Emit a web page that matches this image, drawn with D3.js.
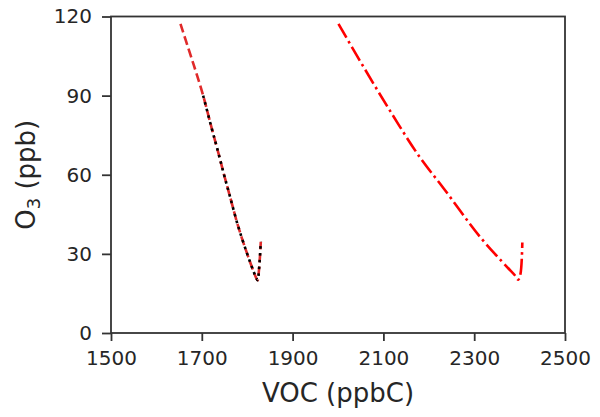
<!DOCTYPE html>
<html>
<head>
<meta charset="utf-8">
<script src="https://cdn.jsdelivr.net/npm/d3@7"></script>
<style>
  body { margin: 0; background: #fff; }
  svg, svg text { font-family: "DejaVu Sans", sans-serif; }
  .axis .tick text { fill: #262626; font-size: 20px; font-family: "DejaVu Sans", sans-serif; }
  .axis path, .axis line { stroke: #333; stroke-width: 1.8; }
</style>
</head>
<body>
<div id="chart"></div>
<script>
const xTicks = [1500, 1700, 1900, 2100, 2300, 2500];
const yTicks = [0, 30, 60, 90, 120];

// first scenario, red dashed
const scenarioA = [
  { voc: 1653, o3: 117.2 },
  { voc: 1674, o3: 106 },
  { voc: 1688, o3: 98.5 },
  { voc: 1703, o3: 90 },
  { voc: 1722, o3: 77.5 },
  { voc: 1736, o3: 68.6 },
  { voc: 1749, o3: 60 },
  { voc: 1762, o3: 51.8 },
  { voc: 1780, o3: 40.5 },
  { voc: 1800, o3: 30 },
  { voc: 1813, o3: 23.8 },
  { voc: 1820, o3: 20.8 },
  { voc: 1823, o3: 20 },
  { voc: 1826, o3: 24 },
  { voc: 1830, o3: 34.6 }
];

// same scenario, black dotted overlay
const overlayA = scenarioA.filter((d) => d.voc >= 1700);

// second scenario, red dash-dot
const scenarioB = [
  { voc: 2001, o3: 117.2 },
  { voc: 2048, o3: 103.3 },
  { voc: 2114, o3: 84.4 },
  { voc: 2180, o3: 66.7 },
  { voc: 2232, o3: 55 },
  { voc: 2313, o3: 36.4 },
  { voc: 2372, o3: 25.1 },
  { voc: 2390, o3: 21.8 },
  { voc: 2397, o3: 20.2 },
  { voc: 2402, o3: 22.5 },
  { voc: 2406, o3: 34.3 }
];

const width = 600;
const height = 417;
const margin = { top: 16.5, right: 35, bottom: 84, left: 111 };
const font = "DejaVu Sans, sans-serif";

const svg = d3
  .select("#chart")
  .append("svg")
  .attr("width", width)
  .attr("height", height);

const x = d3
  .scaleLinear()
  .domain([1500, 2500])
  .range([margin.left, width - margin.right]);

const y = d3
  .scaleLinear()
  .domain([0, 120])
  .range([height - margin.bottom, margin.top]);

const line = d3
  .line()
  .x((d) => x(d.voc))
  .y((d) => y(d.o3))
  .curve(d3.curveCatmullRom);

svg
  .append("path")
  .datum(scenarioA)
  .attr("d", line)
  .attr("fill", "none")
  .attr("stroke", "#e02a2a")
  .attr("stroke-width", 2.6)
  .attr("stroke-dasharray", "9,4");

svg
  .append("path")
  .datum(overlayA)
  .attr("d", line)
  .attr("fill", "none")
  .attr("stroke", "#000")
  .attr("stroke-width", 2.6)
  .attr("stroke-dasharray", "2.6,4.2");

svg
  .append("path")
  .datum(scenarioB)
  .attr("d", line)
  .attr("fill", "none")
  .attr("stroke", "#ff0000")
  .attr("stroke-width", 2.6)
  .attr("stroke-dasharray", "16,4,2.6,4");

// frame
svg
  .append("rect")
  .attr("x", margin.left)
  .attr("y", margin.top)
  .attr("width", width - margin.left - margin.right)
  .attr("height", height - margin.top - margin.bottom)
  .attr("fill", "none")
  .attr("stroke", "#333")
  .attr("stroke-width", 1.8);

svg
  .append("g")
  .attr("class", "axis")
  .attr("transform", `translate(0,${height - margin.bottom})`)
  .call(d3.axisBottom(x).tickValues(xTicks).tickFormat(d3.format("d")).tickSize(8).tickPadding(10).tickSizeOuter(0))
  .call((g) => g.attr("font-family", font).attr("font-size", 20))
  .call((g) => g.select(".domain").remove());

svg
  .append("g")
  .attr("class", "axis")
  .attr("transform", `translate(${margin.left},0)`)
  .call(d3.axisLeft(y).tickValues(yTicks).tickFormat(d3.format("d")).tickSize(9).tickPadding(10).tickSizeOuter(0))
  .call((g) => g.attr("font-family", font).attr("font-size", 20))
  .call((g) => g.select(".domain").remove());

svg
  .append("text")
  .attr("x", (margin.left + width - margin.right) / 2)
  .attr("y", 402)
  .attr("text-anchor", "middle")
  .attr("font-family", font)
  .attr("fill", "#262626")
  .attr("font-size", 26)
  .text("VOC (ppbC)");

const yLabel = svg
  .append("text")
  .attr("transform", `translate(35,${(margin.top + height - margin.bottom) / 2}) rotate(-90)`)
  .attr("text-anchor", "middle")
  .attr("font-family", font)
  .attr("fill", "#262626")
  .attr("font-size", 26);
yLabel.append("tspan").text("O");
yLabel.append("tspan").attr("font-size", 18).attr("dy", 5).text("3");
yLabel.append("tspan").attr("dy", -5).text(" (ppb)");
</script>
</body>
</html>
